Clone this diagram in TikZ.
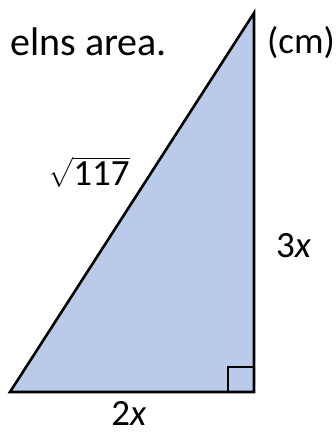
\documentclass[tikz,border=0pt]{standalone}
\usepackage{amsmath}
\usepackage{fontspec}
\setmainfont{Carlito}
\begin{document}
\begin{tikzpicture}[x=1pt,y=-1pt,
  lbl/.style={inner sep=0pt,font=\fontsize{37}{42}\selectfont},
  edge/.style={draw=black,line width=2.6pt,line join=miter}]
\useasboundingbox (0,0) rectangle (336,433);
\coordinate (A) at (10,392);
\coordinate (B) at (254,392);
\coordinate (C) at (254,13);
\filldraw[edge,fill={rgb,255:red,185;green,203;blue,232}] (A) -- (B) -- (C) -- cycle;
\coordinate (R1) at (228,392);
\coordinate (R2) at (228,367);
\coordinate (R3) at (254,367);
\draw[line width=2pt] (R1) -- (R2) -- (R3);
\node[lbl,anchor=base east,font=\fontsize{40}{46}\selectfont] (t) at (167,56) {elns area.};
\node[lbl,anchor=base west] (cm) at (267,54) {(cm)};
\node[lbl] (s) at (89,172) {$\sqrt{\text{117}}$};
\node[lbl,anchor=base west] (h) at (276,257) {3\textit{x}};
\node[lbl,anchor=base,text depth=0pt] (w) at (129,425) {2\textit{x}};
\end{tikzpicture}
\end{document}
